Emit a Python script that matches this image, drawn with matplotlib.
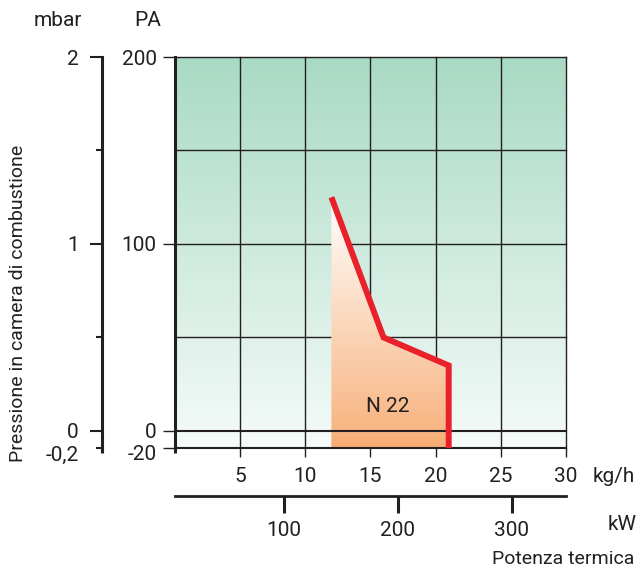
import numpy as np
import matplotlib
matplotlib.use('Agg')
import matplotlib.pyplot as plt
from matplotlib.colors import LinearSegmentedColormap
from matplotlib.patches import Polygon

plt.rcParams['font.family'] = ['Roboto', 'DejaVu Sans']
plt.rcParams['text.color'] = '#231f20'

### Curva di lavoro N 22 (portata kg/h, pressione Pa) ###
portata_kgh = [12, 16, 21, 21]
pressione_pa = [125, 50, 35, -20]

pa_ticks = [0, 100, 200]
pa_grid = [50, 100, 150, 200]
mbar_ticks = [0, 1, 2]
mbar_minor = [-0.2, 0.5, 1.5]
kgh_ticks = [5, 10, 15, 20, 25, 30]
kw_ticks = [100, 200, 300]
kw_lim = (4.6, 347.6)

W, H = 638, 569
ink = '#231f20'
fs = 15      # numeri
fs_txt = 14  # testi lunghi

fig = plt.figure(figsize=(W / 100, H / 100), dpi=100)

def fx(px):
    return px / W

def fy(py):
    return 1 - py / H

# scala compressa sotto lo zero
k = 0.456
def fwd(y):
    y = np.asarray(y, float)
    return np.where(y < 0, y * k, y)

def inv(y):
    y = np.asarray(y, float)
    return np.where(y < 0, y / k, y)

### Grafico principale ###
ax = fig.add_axes([fx(175), fy(448), fx(566) - fx(175), fy(57) - fy(448)])
ax.set_yscale('function', functions=(fwd, inv))

verde = LinearSegmentedColormap.from_list('verde', ['#f5fbf9', '#a9dac4'])
grad = np.linspace(0, 1, 256)[:, None]
ax.imshow(grad, extent=(0, 1, 0, 1), transform=ax.transAxes, origin='lower',
          aspect='auto', cmap=verde, zorder=0)

for v in kgh_ticks:
    ax.axvline(v, color=ink, lw=1.0, zorder=1, clip_on=False)
for v in pa_grid:
    ax.axhline(v, color=ink, lw=1.0, zorder=1, clip_on=False)
ax.axhline(0, color=ink, lw=1.5, zorder=3)

# area di lavoro con sfumatura
arancio = LinearSegmentedColormap.from_list('arancio', ['#f7aa70', '#ffffff'])
xs = portata_kgh + [portata_kgh[0]]
ys = pressione_pa + [pressione_pa[-1]]
poly = Polygon(list(zip(xs, ys)), closed=True, facecolor='none', edgecolor='none')
ax.add_patch(poly)
im = ax.imshow(grad, extent=(min(xs), max(xs), min(ys), max(ys)), origin='lower',
               aspect='auto', cmap=arancio, zorder=2)
im.set_clip_path(poly)

ax.plot(portata_kgh, pressione_pa, color='#e8212b', lw=4.3, solid_joinstyle='miter',
        solid_capstyle='butt', zorder=5, clip_on=False)
ax.text(16.3, 13, 'N 22', fontsize=fs, ha='center', va='center', zorder=6)

ax.set_xlim(0, 30)
ax.set_ylim(-20, 200)

for s in ['top', 'right']:
    ax.spines[s].set_visible(False)
ax.spines['left'].set_linewidth(2.2)
ax.spines['bottom'].set_linewidth(1.5)
ax.spines['left'].set_color(ink)
ax.spines['bottom'].set_color(ink)
ax.plot([0, 0], [-0.012, 0], transform=ax.transAxes, color=ink, lw=2.2,
        solid_capstyle='butt', clip_on=False)

ax.set_yticks(pa_ticks + [-20])
ax.set_yticklabels([str(t) for t in pa_ticks] + [''])
ax.set_xticks(kgh_ticks)
ax.set_xticklabels([str(t) for t in kgh_ticks])
ax.tick_params(axis='y', direction='out', length=8.6, width=1.0, pad=4.5,
               labelsize=fs, color=ink, labelcolor=ink)
ax.tick_params(axis='x', direction='out', length=6.5, width=1.0, pad=7,
               labelsize=fs, color=ink, labelcolor=ink)
ax.annotate('-20', xy=(0, -20), xycoords=('axes fraction', 'data'),
            xytext=(-13, -5), textcoords='offset points', ha='right', va='center',
            fontsize=fs)

### Asse mbar ###
axm = fig.add_axes([fx(102), fy(448), 1e-4, fy(57) - fy(448)])
axm.set_yscale('function', functions=(fwd, inv))
axm.set_ylim(-0.2, 2)
axm.patch.set_visible(False)
for s in ['top', 'right', 'bottom']:
    axm.spines[s].set_visible(False)
axm.spines['left'].set_linewidth(2.2)
axm.spines['left'].set_color(ink)
axm.plot([0, 0], [-0.012, 0], transform=axm.transAxes, color=ink, lw=2.2,
         solid_capstyle='butt', clip_on=False)
axm.set_xticks([])
axm.set_yticks(mbar_ticks)
axm.set_yticklabels([str(t) for t in mbar_ticks])
axm.set_yticks(mbar_minor, minor=True)
axm.tick_params(axis='y', which='major', direction='out', length=8.6, width=1.5,
                pad=8, labelsize=fs, color=ink, labelcolor=ink)
axm.tick_params(axis='y', which='minor', direction='out', length=4.3, width=1.5,
                color=ink, labelleft=False)
axm.annotate('-0,2', xy=(0, -0.2), xycoords=('axes fraction', 'data'),
             xytext=(-17, -5), textcoords='offset points', ha='right', va='center',
             fontsize=fs)

### Asse kW ###
axk = fig.add_axes([fx(175), fy(496), fx(566) - fx(175), 1e-4])
axk.set_xlim(*kw_lim)
axk.patch.set_visible(False)
for s in ['top', 'right', 'left']:
    axk.spines[s].set_visible(False)
axk.spines['bottom'].set_linewidth(2.0)
axk.spines['bottom'].set_color(ink)
axk.set_yticks([])
axk.set_xticks(kw_ticks)
axk.set_xticklabels([str(t) for t in kw_ticks])
axk.tick_params(axis='x', direction='out', length=12, width=2.2, pad=6,
                labelsize=fs, color=ink, labelcolor=ink)

### Etichette ###
fig.text(fx(58), fy(20), 'mbar', fontsize=fs, ha='center', va='center')
fig.text(fx(148), fy(20), 'PA', fontsize=fs, ha='center', va='center')
fig.text(fx(614), fy(477), 'kg/h', fontsize=fs, ha='center', va='center')
fig.text(fx(622), fy(525), 'kW', fontsize=fs, ha='center', va='center')
fig.text(fx(634), fy(559), 'Potenza termica', fontsize=fs_txt, ha='right', va='center')
fig.text(fx(18), fy(303), 'Pressione in camera di combustione', fontsize=fs_txt,
         rotation=90, ha='center', va='center')

fig.savefig('out.png', dpi=100)
